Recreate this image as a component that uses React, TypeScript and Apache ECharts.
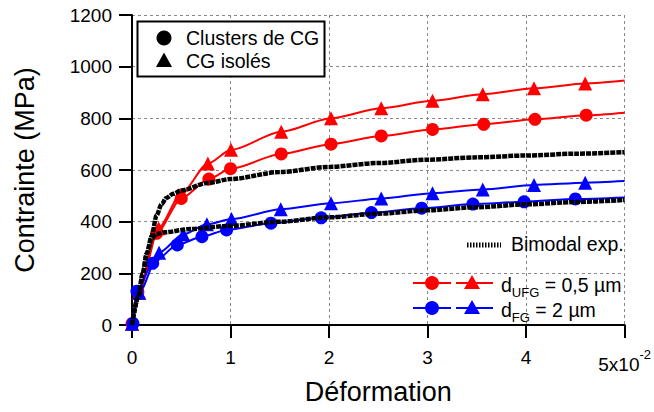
import React, { useEffect, useRef } from "react";
import * as echarts from "echarts";

// Déformation (x10^-2) vs Contrainte (MPa)
const xTicks = [0, 1, 2, 3, 4, 5];
const yTicks = [0, 200, 400, 600, 800, 1000, 1200];

const ufgClusters: number[][] = [[0, 5], [0.06, 128], [0.25, 355], [0.5, 490], [0.78, 565], [1.0, 605], [1.515, 662], [2.02, 700], [2.53, 732], [3.05, 757], [3.57, 777], [4.09, 796], [4.61, 812], [5, 822]];
const ufgIsolated: number[][] = [[0, 5], [0.07, 125], [0.27, 375], [0.49, 503], [0.77, 625], [1.005, 678], [1.515, 748], [2.02, 800], [2.53, 839], [3.05, 868], [3.56, 893], [4.08, 916], [4.6, 935], [5, 946]];
const fgClusters: number[][] = [[0.01, 6], [0.05, 131], [0.21, 239], [0.46, 310], [0.71, 342], [0.96, 368], [1.41, 394], [1.92, 415], [2.43, 435], [2.94, 452], [3.46, 468], [3.98, 477], [4.5, 488], [5, 494]];
const fgIsolated: number[][] = [[0, 5], [0.074, 125], [0.275, 280], [0.52, 351], [0.76, 390], [1.01, 410], [1.51, 448], [2.02, 471], [2.53, 490], [3.05, 510], [3.56, 525], [4.08, 542], [4.6, 551], [5, 557]];
const bimodalUpper: number[][] = [[0, 0], [0.064, 110], [0.11, 200], [0.15, 277], [0.2, 345], [0.25, 425], [0.3, 468], [0.35, 492], [0.42, 508], [0.5, 521], [0.77, 550], [1.0, 565], [1.5, 592], [2.0, 612], [2.5, 627], [3.0, 640], [3.5, 649], [4.0, 656], [4.5, 663], [5.0, 669]];
const bimodalLower: number[][] = [[0, 0], [0.064, 110], [0.11, 200], [0.15, 277], [0.2, 335], [0.25, 352], [0.33, 359], [0.6, 372], [1.0, 384], [1.5, 400], [2.0, 417], [2.5, 431], [3.0, 444], [3.5, 456], [4.0, 467], [4.5, 476], [5.0, 484]];

const RED = "#ff0000";
const BLUE = "#0000ff";
const FONT = "Liberation Sans, Arial, sans-serif";

// last point of each model curve carries no marker
const withEndNoMarker = (d: number[][]) =>
  d.map((p, i) => (i === d.length - 1 ? { value: p, symbol: "none" } : { value: p }));

const modelSeries = (name: string, data: number[][], color: string, symbol: string, size: number) => ({
  name,
  type: "line",
  data: withEndNoMarker(data),
  symbol,
  symbolSize: size,
  smooth: 0.25,
  smoothMonotone: "x",
  lineStyle: { color, width: 2 },
  itemStyle: { color },
  z: 3,
});

const expSeries = (name: string, data: number[][]) => ({
  name,
  type: "line",
  data,
  symbol: "none",
  smooth: 0.3,
  smoothMonotone: "x",
  lineStyle: { color: "#000", width: 4.5, type: [5, 1] },
  z: 4,
});

export default function App() {
  const ref = useRef<HTMLDivElement>(null);
  useEffect(() => {
    document.body.style.margin = "0";
    const chart = echarts.init(ref.current!, null, { renderer: "svg" });
    const legendRich = {
      n: { fontSize: 19.5, lineHeight: 27, fontFamily: FONT, fill: "#000" },
      s: { fontSize: 13, lineHeight: 13, verticalAlign: "bottom", fontFamily: FONT, fill: "#000" },
    };
    chart.setOption({
      animation: false,
      backgroundColor: "#fff",
      textStyle: { fontFamily: FONT },
      grid: { left: 132, right: 26, top: 15, bottom: 87 },
      xAxis: {
        type: "value",
        min: xTicks[0],
        max: xTicks[xTicks.length - 1],
        interval: 1,
        name: "Déformation",
        nameLocation: "middle",
        nameGap: 50,
        nameTextStyle: { fontSize: 27, color: "#000", fontFamily: FONT },
        axisLine: { onZero: false, lineStyle: { color: "#000", width: 2 } },
        axisTick: { length: 13, lineStyle: { color: "#000", width: 2 } },
        axisLabel: {
          margin: 23,
          fontSize: 19,
          color: "#000",
          fontFamily: FONT,
          formatter: (v: number) => (v === 5 ? "{e|5x10}{s|-2}" : String(v)),
          rich: {
            e: { fontSize: 19, lineHeight: 19, padding: [13, 0, 0, 0], color: "#000", fontFamily: FONT },
            s: { fontSize: 13, lineHeight: 13, verticalAlign: "top", color: "#000", fontFamily: FONT },
          },
        },
        splitLine: { show: true, lineStyle: { color: "#888", type: [3, 3], width: 1 } },
      },
      yAxis: {
        type: "value",
        min: yTicks[0],
        max: yTicks[yTicks.length - 1],
        interval: 200,
        name: "Contrainte (MPa)",
        nameLocation: "middle",
        nameRotate: 90,
        nameGap: 94,
        nameTextStyle: { fontSize: 27, color: "#000", fontFamily: FONT },
        axisLine: { show: true, lineStyle: { color: "#000", width: 2 } },
        axisTick: { show: true, length: 13, lineStyle: { color: "#000", width: 2 } },
        axisLabel: { margin: 20, fontSize: 19, color: "#000", fontFamily: FONT, formatter: (v: number) => String(v) },
        splitLine: { show: true, lineStyle: { color: "#888", type: [3, 3], width: 1 } },
      },
      series: [
        modelSeries("UFG clusters", ufgClusters, RED, "circle", 13),
        modelSeries("UFG isolés", ufgIsolated, RED, "triangle", 14),
        modelSeries("FG clusters", fgClusters, BLUE, "circle", 13),
        modelSeries("FG isolés", fgIsolated, BLUE, "triangle", 14),
        expSeries("Bimodal exp. 1", bimodalUpper),
        expSeries("Bimodal exp. 2", bimodalLower),
      ],
      graphic: [
        // marker-shape legend box
        { type: "rect", shape: { x: 137.5, y: 21.5, width: 187, height: 55 }, style: { fill: "#fff", stroke: "#000", lineWidth: 2 }, z: 10 },
        { type: "circle", shape: { cx: 164, cy: 38, r: 7.5 }, style: { fill: "#000" }, z: 11 },
        { type: "text", x: 186, y: 38, style: { text: "Clusters de CG", fontSize: 19.5, fontFamily: FONT, fill: "#000", verticalAlign: "middle" }, z: 11 },
        { type: "polygon", shape: { points: [[164, 52.5], [156, 67], [172, 67]] }, style: { fill: "#000" }, z: 11 },
        { type: "text", x: 186, y: 61, style: { text: "CG isolés", fontSize: 19.5, fontFamily: FONT, fill: "#000", verticalAlign: "middle" }, z: 11 },
        // bimodal legend
        { type: "line", shape: { x1: 467, y1: 245, x2: 501, y2: 245 }, style: { stroke: "#000", lineWidth: 5, lineDash: [1.5, 1.5] }, z: 11 },
        { type: "text", x: 511, y: 244, style: { text: "Bimodal exp.", fontSize: 19.5, fontFamily: FONT, fill: "#000", verticalAlign: "middle" }, z: 11 },
        // UFG legend
        { type: "line", shape: { x1: 413, y1: 283, x2: 451, y2: 283 }, style: { stroke: RED, lineWidth: 2 }, z: 11 },
        { type: "circle", shape: { cx: 432, cy: 283, r: 7 }, style: { fill: RED }, z: 11 },
        { type: "line", shape: { x1: 456, y1: 283, x2: 493, y2: 283 }, style: { stroke: RED, lineWidth: 2 }, z: 11 },
        { type: "polygon", shape: { points: [[472, 275], [464, 289], [480, 289]] }, style: { fill: RED }, z: 11 },
        { type: "text", x: 501, y: 285, style: { text: "{n|d}{s|UFG}{n| = 0,5 µm}", rich: legendRich, verticalAlign: "middle" }, z: 11 },
        // FG legend
        { type: "line", shape: { x1: 413, y1: 308, x2: 451, y2: 308 }, style: { stroke: BLUE, lineWidth: 2 }, z: 11 },
        { type: "circle", shape: { cx: 432, cy: 308, r: 7 }, style: { fill: BLUE }, z: 11 },
        { type: "line", shape: { x1: 456, y1: 308, x2: 493, y2: 308 }, style: { stroke: BLUE, lineWidth: 2 }, z: 11 },
        { type: "polygon", shape: { points: [[472, 300], [464, 314], [480, 314]] }, style: { fill: BLUE }, z: 11 },
        { type: "text", x: 501, y: 310, style: { text: "{n|d}{s|FG}{n| = 2 µm}", rich: legendRich, verticalAlign: "middle" }, z: 11 },
      ],
    });
    return () => chart.dispose();
  }, []);
  return <div ref={ref} style={{ width: 654, height: 412 }} />;
}
